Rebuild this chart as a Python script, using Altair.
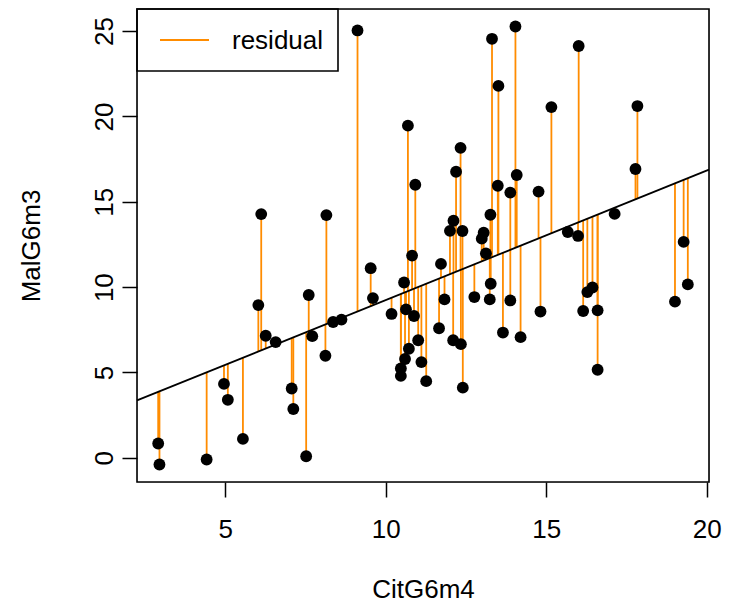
import altair as alt
import numpy as np
import pandas as pd

# CitG6m4 (x) and MalG6m3 (y)
cit = [2.91, 2.95, 4.42, 4.96, 5.08, 5.55, 6.03, 6.12, 6.26, 6.57,
       7.07, 7.12, 7.52, 7.60, 7.71, 8.12, 8.15, 8.36, 8.62, 9.12,
       9.53, 9.60, 10.18, 10.47, 10.47, 10.57, 10.60, 10.63, 10.69, 10.72,
       10.82, 10.88, 10.92, 11.01, 11.11, 11.26, 11.66, 11.72, 11.83, 12.00,
       12.10, 12.11, 12.19, 12.33, 12.34, 12.39, 12.40, 12.76, 12.99, 13.05,
       13.12, 13.26, 13.27, 13.24, 13.31, 13.49, 13.51, 13.65, 13.88, 13.88,
       14.04, 14.08, 14.20, 14.76, 14.82, 15.16, 15.67, 15.99, 16.01, 16.15,
       16.28, 16.44, 16.60, 16.60, 17.13, 17.78, 17.84, 19.01, 19.28, 19.41]
mal = [0.84, -0.39, -0.10, 4.33, 3.40, 1.11, 8.95, 14.28, 7.15, 6.78,
       4.06, 2.86, 0.09, 9.54, 7.13, 5.98, 14.22, 7.96, 8.10, 25.04,
       11.11, 9.36, 8.43, 5.24, 4.80, 10.27, 5.79, 8.70, 19.46, 6.39,
       11.85, 8.31, 16.00, 6.89, 5.61, 4.49, 7.59, 11.36, 9.28, 13.30,
       6.89, 13.89, 16.76, 18.16, 6.66, 13.29, 4.11, 9.42, 12.84, 13.19,
       11.98, 14.24, 10.20, 9.28, 24.55, 15.94, 21.79, 7.34, 15.54, 9.22,
       25.27, 16.57, 7.07, 15.60, 8.57, 20.55, 13.23, 13.00, 24.13, 8.60,
       9.71, 9.98, 8.64, 5.16, 14.29, 16.92, 20.61, 9.15, 12.65, 10.16]

x_ticks = [5, 10, 15, 20]
y_ticks = [0, 5, 10, 15, 20, 25]
legend_label = "residual"
orange = "#FF8C00"
FONT = "Liberation Sans"
FS = 26

x = np.array(cit)
y = np.array(mal)
slope, intercept = np.polyfit(x, y, 1)
fitted = intercept + slope * x

df = pd.DataFrame({"CitG6m4": x, "MalG6m3": y, "fit": fitted})

# R-style 4% axis extension
xr = x.max() - x.min()
yr = y.max() - y.min()
xdom = [x.min() - 0.04 * xr, x.max() + 0.04 * xr]
ydom = [y.min() - 0.04 * yr, y.max() + 0.04 * yr]
line_df = pd.DataFrame({"CitG6m4": xdom,
                        "MalG6m3": [intercept + slope * v for v in xdom]})

W, H = 572, 473

xs = alt.Scale(domain=xdom, nice=False, zero=False)
ys = alt.Scale(domain=ydom, nice=False, zero=False)

xaxis = alt.Axis(values=x_ticks, grid=False, domain=False, tickSize=15,
                 tickWidth=1.5, tickColor="black", labelFont=FONT,
                 labelFontSize=FS, labelColor="black", labelPadding=19,
                 labelBaseline="top", title="CitG6m4", titleFont=FONT,
                 titleFontSize=FS, titleFontWeight="normal", titleColor="black",
                 titleX=W / 2, titleY=107, titleBaseline="middle",
                 titleAlign="center")
yaxis = alt.Axis(values=y_ticks, grid=False, domain=False, tickSize=15,
                 tickWidth=1.5, tickColor="black", labelFont=FONT,
                 labelFontSize=FS, labelColor="black", labelPadding=5,
                 labelAngle=270, labelAlign="center", labelBaseline="bottom",
                 title="MalG6m3", titleFont=FONT, titleFontSize=FS,
                 titleFontWeight="normal", titleColor="black",
                 titleAngle=270, titleX=-106, titleY=H / 2,
                 titleBaseline="middle", titleAlign="center")

base = alt.Chart(df)

resid = base.mark_rule(color=orange, strokeWidth=1.8).encode(
    x=alt.X("CitG6m4:Q", scale=xs, axis=xaxis),
    y=alt.Y("MalG6m3:Q", scale=ys, axis=yaxis),
    y2="fit:Q",
)

reg = alt.Chart(line_df).mark_line(color="black", strokeWidth=1.8).encode(
    x=alt.X("CitG6m4:Q", scale=xs),
    y=alt.Y("MalG6m3:Q", scale=ys),
)

pts = base.mark_circle(color="black", size=140, opacity=1).encode(
    x=alt.X("CitG6m4:Q", scale=xs),
    y=alt.Y("MalG6m3:Q", scale=ys),
)

leg_df = pd.DataFrame({"label": [legend_label]})
frame = alt.Chart(leg_df).mark_rect(fill=None, stroke="black",
                                    strokeWidth=1.6).encode(
    x=alt.value(0), x2=alt.value(W), y=alt.value(0), y2=alt.value(H))
leg_box = alt.Chart(leg_df).mark_rect(fill="white", stroke="black",
                                      strokeWidth=1.6).encode(
    x=alt.value(0), x2=alt.value(201), y=alt.value(0), y2=alt.value(62))
leg_line = alt.Chart(leg_df).mark_rule(color=orange, strokeWidth=1.8).encode(
    x=alt.value(23), x2=alt.value(72), y=alt.value(31))
leg_text = alt.Chart(leg_df).mark_text(font=FONT, fontSize=FS, color="black",
                                       align="left", baseline="middle").encode(
    x=alt.value(95), y=alt.value(32), text="label:N")

chart = alt.layer(resid, reg, pts, leg_box, leg_line, leg_text, frame).properties(
    width=W, height=H,
    autosize=alt.AutoSizeParams(type="none"),
    padding={"left": 129, "top": 1, "right": 16, "bottom": 122},
).configure_view(stroke=None).configure(background="white")

chart.save("out.html", embed_options={"renderer": "svg", "actions": False})
